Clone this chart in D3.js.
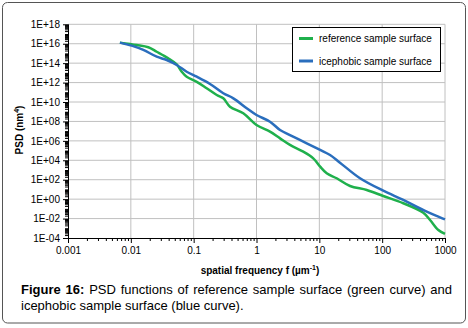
<!DOCTYPE html>
<html>
<head>
<meta charset="utf-8">
<script src="https://cdn.jsdelivr.net/npm/d3@7"></script>
<style>
  body { margin: 0; background: #fff; }
  svg { display: block; font-family: "Liberation Sans", Arial, sans-serif; }
</style>
</head>
<body>
<svg id="chart" width="468" height="328"></svg>
<script>
// spatial frequency f (1/um) and PSD (nm^4)
const refFreq = [0.0067, 0.0124, 0.019, 0.0258, 0.0394, 0.0537, 0.0646, 0.0774, 0.112, 0.161, 0.233, 0.296, 0.378, 0.616, 1.0, 1.64, 2.37, 3.41, 5.56, 8.0, 10.3, 13.1, 18.9, 30.8, 56.8, 104, 217, 452, 578, 783, 1000];
const refPsd  = [1.3e16, 7.4e15, 4.3e15, 1.5e15, 3.2e14, 7.6e13, 1.3e13, 4.0e12, 1.2e12, 2.6e11, 5.3e10, 2.4e10, 3.3e9, 6.9e8, 4.3e7, 8.8e6, 1.8e6, 3.8e5, 7.7e4, 1.6e4, 2.2e3, 460, 141, 22.7, 8.8, 2.1, 0.38, 0.040, 0.0072, 6.7e-4, 2.6e-4];

const iceFreq = [0.0067, 0.0103, 0.0158, 0.0258, 0.0372, 0.0537, 0.0774, 0.112, 0.182, 0.296, 0.428, 0.698, 1.0, 1.64, 2.37, 3.41, 6.3, 10.3, 14.8, 21.3, 44.4, 104, 217, 512, 833, 1000];
const icePsd  = [1.3e16, 6.3e15, 2.3e15, 4.6e14, 2.1e14, 6.5e13, 1.3e13, 4.0e12, 7.2e11, 7.9e10, 2.4e10, 2.3e9, 4.6e8, 9.4e7, 1.3e7, 4.0e6, 5.6e5, 1.15e5, 3.5e4, 5.7e3, 141, 7.4, 0.82, 0.051, 0.0136, 0.0081];

const xTicks = [0.001, 0.01, 0.1, 1, 10, 100, 1000];
const xTickLabels = ["0.001", "0.01", "0.1", "1", "10", "100", "1000"];
const yTicks = [1e-4, 1e-2, 1, 1e2, 1e4, 1e6, 1e8, 1e10, 1e12, 1e14, 1e16, 1e18];

const seriesNames = ["reference sample surface", "icephobic sample surface"];
const seriesColors = ["#1fb04c", "#2a6ebd"];

const svg = d3.select("#chart");

// outer frame
svg.append("rect")
  .attr("x", 2.5).attr("y", 2.5)
  .attr("width", 463).attr("height", 320.5)
  .attr("rx", 5)
  .attr("fill", "#fff")
  .attr("stroke", "#555");

const x = d3.scaleLog().domain([0.001, 1000]).range([68, 445]);
const y = d3.scaleLog().domain([1e-4, 1e18]).range([238, 24.3]);

// minor ticks at 2..9 of every decade
const minorX = [], minorY = [];
for (let e = -3; e < 3; e++) for (let k = 2; k < 10; k++) minorX.push(k * Math.pow(10, e));
for (let e = -4; e < 18; e++) for (let k = 2; k < 10; k++) minorY.push(k * Math.pow(10, e));
// odd decades are minor on y too
for (let e = -3; e < 18; e += 2) minorY.push(Math.pow(10, e));

// grid
svg.append("g")
  .selectAll("line")
  .data(xTicks.slice(1))
  .join("line")
  .attr("x1", d => x(d)).attr("x2", d => x(d))
  .attr("y1", y(1e18)).attr("y2", y(1e-4))
  .attr("stroke", "#c0c0c0");
svg.append("g")
  .selectAll("line")
  .data(yTicks.slice(1))
  .join("line")
  .attr("x1", x(0.001)).attr("x2", x(1000))
  .attr("y1", d => y(d)).attr("y2", d => y(d))
  .attr("stroke", "#c0c0c0");

const yFmt = v => {
  const e = Math.round(Math.log10(v));
  return "1E" + (e < 0 ? "-" : "+") + String(Math.abs(e)).padStart(2, "0");
};

// minor ticks
svg.append("g")
  .attr("transform", `translate(0,${y(1e-4)})`)
  .call(d3.axisBottom(x).tickValues(minorX).tickSize(3).tickFormat(""))
  .call(g => g.select(".domain").remove());
svg.append("g")
  .attr("transform", `translate(${x(0.001)},0)`)
  .call(d3.axisLeft(y).tickValues(minorY).tickSize(3).tickFormat(""))
  .call(g => g.select(".domain").remove());

// major axes
svg.append("g")
  .attr("transform", `translate(0,${y(1e-4)})`)
  .call(d3.axisBottom(x).tickValues(xTicks).tickSize(5).tickPadding(4)
    .tickFormat((d, i) => xTickLabels[i]))
  .call(g => g.select(".domain").attr("d", `M${x(0.001)},0.5H${x(1000)}`))
  .call(g => g.selectAll("text").attr("font-size", 10).attr("font-family", null).attr("fill", "#000"));
svg.append("g")
  .attr("transform", `translate(${x(0.001)},0)`)
  .call(d3.axisLeft(y).tickValues(yTicks).tickSize(5).tickPadding(3).tickFormat(yFmt))
  .call(g => g.select(".domain").attr("d", `M0.5,${y(1e18)}V${y(1e-4)}`))
  .call(g => g.selectAll("text").attr("font-size", 10).attr("font-family", null).attr("fill", "#000"));

// curves (smoothed like the spreadsheet lines)
const line = d3.line()
  .x(d => x(d[0]))
  .y(d => y(d[1]))
  .curve(d3.curveCatmullRom.alpha(0.5));

const series = [
  d3.zip(refFreq, refPsd),
  d3.zip(iceFreq, icePsd)
];
svg.append("g")
  .selectAll("path")
  .data(series)
  .join("path")
  .attr("d", line)
  .attr("fill", "none")
  .attr("stroke", (d, i) => seriesColors[i])
  .attr("stroke-width", 2.5)
  .attr("stroke-linejoin", "round");

// legend
const lg = svg.append("g");
lg.append("rect")
  .attr("x", 292.5).attr("y", 27.5)
  .attr("width", 148).attr("height", 44)
  .attr("fill", "#fff").attr("stroke", "#000");
seriesNames.forEach((name, i) => {
  const ly = 38.5 + i * 22.5;
  lg.append("line")
    .attr("x1", 299).attr("x2", 313)
    .attr("y1", ly).attr("y2", ly)
    .attr("stroke", seriesColors[i]).attr("stroke-width", 3);
  lg.append("text")
    .attr("x", 319).attr("y", ly + 3.5)
    .attr("font-size", 10)
    .text(name);
});

// axis titles
const xt = svg.append("text")
  .attr("x", 260).attr("y", 274)
  .attr("text-anchor", "middle")
  .attr("font-size", 10).attr("font-weight", "bold");
xt.append("tspan").text("spatial frequency f (µm");
xt.append("tspan").attr("dy", -4).attr("font-size", 7).text("-1");
xt.append("tspan").attr("dy", 4).text(")");

const yt = svg.append("text")
  .attr("transform", "translate(23,130) rotate(-90)")
  .attr("text-anchor", "middle")
  .attr("font-size", 10).attr("font-weight", "bold");
yt.append("tspan").text("PSD (nm");
yt.append("tspan").attr("dy", -4).attr("font-size", 7).text("4");
yt.append("tspan").attr("dy", 4).text(")");

// caption, first line justified
const cap1 = svg.append("text")
  .attr("x", 21).attr("y", 294)
  .attr("font-size", 13);
cap1.append("tspan").attr("font-weight", "bold").text("Figure 16:");
cap1.append("tspan").text(" PSD functions of reference sample surface (green curve) and");
const natural = cap1.node().getComputedTextLength();
const gaps = 10;
cap1.attr("word-spacing", Math.max(0, (452 - 21 - natural) / gaps));

svg.append("text")
  .attr("x", 21).attr("y", 310)
  .attr("font-size", 13)
  .text("icephobic sample surface (blue curve).");
</script>
</body>
</html>
